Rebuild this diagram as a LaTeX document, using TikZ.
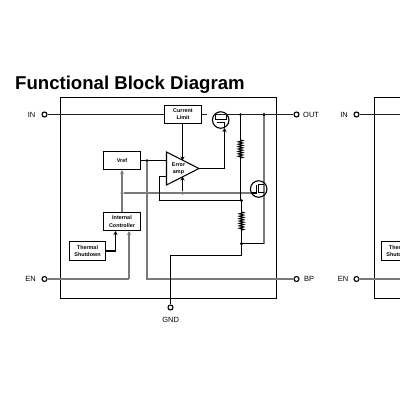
\documentclass[tikz,border=0pt]{standalone}
\usepackage{fontspec}
\setmainfont{Liberation Sans}
\usetikzlibrary{arrows.meta,decorations.pathmorphing}
\definecolor{wiregray}{HTML}{7A7A7A}
\definecolor{wiredark}{HTML}{202020}
\tikzset{
  blockbox/.style={draw=black,line width=1.1pt,fill=white,inner sep=0pt,align=center,font=\fontsize{5.4}{7.2}\selectfont\bfseries},
  frameline/.style={draw=black,line width=1.3pt},
  thinwire/.style={draw=black,line width=1.05pt},
  darkwire/.style={draw=wiredark,line width=1.05pt},
  graywire/.style={draw=wiregray,line width=2pt},
  pinring/.style={circle,draw=black,line width=1.1pt,fill=white,minimum size=5pt,inner sep=0pt},
  junction/.style={circle,fill=black,minimum size=3pt,inner sep=0pt},
  pinlabel/.style={inner sep=0pt,text=black,font=\fontsize{7.5}{9}\selectfont},
  tipped/.style={-{Stealth[length=4pt,width=4pt]}},
  resistor/.style={decorate,decoration={zigzag,segment length=2.4pt,amplitude=2.2pt}},
  fetring/.style={circle,draw=black,line width=1.1pt,minimum size=16.5pt,inner sep=0pt},
}
\begin{document}
\begin{tikzpicture}[x=1pt,y=-1pt]
\useasboundingbox (0,0) rectangle (400,400);
\fill[white] (0,0) rectangle (400,400);
\begin{scope}
\clip (0,0) rectangle (400,400);
\node[anchor=base west,inner sep=0pt,font=\fontsize{18.6}{22}\selectfont\bfseries] (title) at (15,89) {Functional Block Diagram};

% frames
\draw[frameline] (60.5,97.5) rectangle (276.5,298.5);
\draw[frameline] (374.5,97.5) rectangle (440,298.5);

% pins
\coordinate (in2r) at (440,114.5);
\coordinate (en2r) at (440,279);
\node[pinring] (in) at (44.5,114.5) {};
\node[pinring] (en) at (44.5,279) {};
\node[pinring] (out) at (296.5,114.5) {};
\node[pinring] (bp) at (296.5,279) {};
\node[pinring] (gnd) at (170.5,307.5) {};
\node[pinlabel,anchor=east] (inl) at (35.5,114.5) {IN};
\node[pinlabel,anchor=east] (enl) at (36,279) {EN};
\node[pinlabel,anchor=west] (outl) at (303,114.5) {OUT};
\node[pinlabel,anchor=west] (bpl) at (304,279) {BP};
\node[pinlabel] (gndl) at (170.7,320) {GND};
\node[pinring] (in2) at (356.5,114.5) {};
\node[pinring] (en2) at (356.5,279) {};
\node[pinlabel,anchor=east] (inl2) at (348,114.5) {IN};
\node[pinlabel,anchor=east] (enl2) at (348.5,279) {EN};

% junctions
\node[junction] (dref) at (147,160.5) {};
\node[junction] (dfb) at (122,193) {};
\node[junction] (dmid) at (182.5,193) {};
\node[junction] (dr1) at (240.5,114.5) {};
\node[junction] (dr2) at (264,114.5) {};
\node[junction] (dfbk) at (241.5,200.5) {};
\node[junction] (dlow) at (241.5,243.5) {};

% amplifier anchors
\coordinate (ampa) at (166.5,152);
\coordinate (ampb) at (166.5,185);
\coordinate (ampt) at (199,168.5);
\coordinate (ampin) at (166.5,160.5);
\coordinate (ampfb) at (166.5,176.5);
\coordinate (amptop) at (182.5,160.5);
\coordinate (ampbot) at (182.5,176.5);
\coordinate (g2) at (251,193);

% blocks
\node[blockbox,minimum width=37pt,minimum height=18pt] (limit) at (183,114.5) {Current\\Limit};
\node[blockbox,minimum width=37pt,minimum height=18pt] (vref) at (122,160.5) {Vref};
\node[blockbox,minimum width=37pt,minimum height=18pt] (ctrl) at (122,221.5) {Internal\\Controller};
\node[blockbox,minimum width=36pt,minimum height=19pt] (therm) at (87.5,251) {Thermal\\Shutdown};
\node[blockbox,minimum width=36pt,minimum height=19pt] (therm2) at (399.5,251) {Thermal\\Shutdown};

% wires
\draw[darkwire] (in) -- (limit.west);
\draw[darkwire] (in2) -- (in2r);
\draw[graywire] (en) -- (129,279) coordinate (encorner);
\draw[graywire,tipped] (encorner) -- (129,231);
\draw[graywire] (en2) -- (en2r);
\draw[graywire,tipped] (ctrl.north) -- (vref.south);
\draw[thinwire,tipped] (therm.east) -| (115.5,231);
\draw[thinwire] (vref.east) -- (ampin);
\draw[graywire] (dref) |- (bp);
\draw[graywire] (dfb) -- (g2);
\draw[thinwire,tipped] (182.5,123.5) -- (amptop);
\draw[thinwire,tipped] (dmid) -- (ampbot);
\draw[thinwire] (ampfb) -- (159.5,176.5) |- (dfbk);
\draw[thinwire,fill=white] (ampa) -- (ampb) -- (ampt) -- cycle;
\draw[thinwire,tipped] (ampt) -| (224.5,128);
\node[inner sep=0pt,align=center,font=\fontsize{5.4}{7.2}\selectfont\bfseries] (ampl) at (178.5,168.5) {Error\\amp};

% resistor string
\coordinate (r1a) at (240.5,140);
\coordinate (r1b) at (240.5,158);
\coordinate (r2a) at (241.5,212);
\coordinate (r2b) at (241.5,231);
\draw[thinwire] (dr1) -- (r1a);
\draw[thinwire,resistor] (r1a) -- (r1b);
\draw[thinwire] (r1b) -- (240.5,200.5);
\draw[thinwire] (dfbk) -- (r2a);
\draw[thinwire,resistor] (r2a) -- (r2b);
\draw[thinwire] (r2b) -- (dlow);
\draw[thinwire] (dlow) -- (241.5,255.5) -| (gnd);
\draw[graywire] (dr2) -- (264,243.5) coordinate (lowr);
\draw[thinwire] (dlow) -- (lowr);
\node[junction] at (dlow) {};
\node[junction] at (dr2) {};

% pass transistor
\node[fetring] (q1) at (220.7,120) {};
\draw[darkwire] (limit.east) -- (207,114.5);
\draw[darkwire] (213.5,114.5) -- (out);
\draw[thinwire] (215.5,114.5) -- (215.5,119.5) -- (226.5,119.5) -- (226.5,114.5);
\draw[thinwire] (217,122.5) -- (224.5,122.5);
\draw[thinwire] (224.5,122.5) -- (224.5,128);

% shunt transistor
\node[fetring] (q2) at (258.7,189) {};
\draw[thinwire] (g2) -- (256.5,193) -- (256.5,185);
\draw[thinwire] (264,184.5) -- (258.5,184.5) -- (258.5,192.5) -- (264,192.5);
\end{scope}
\end{tikzpicture}
\end{document}
